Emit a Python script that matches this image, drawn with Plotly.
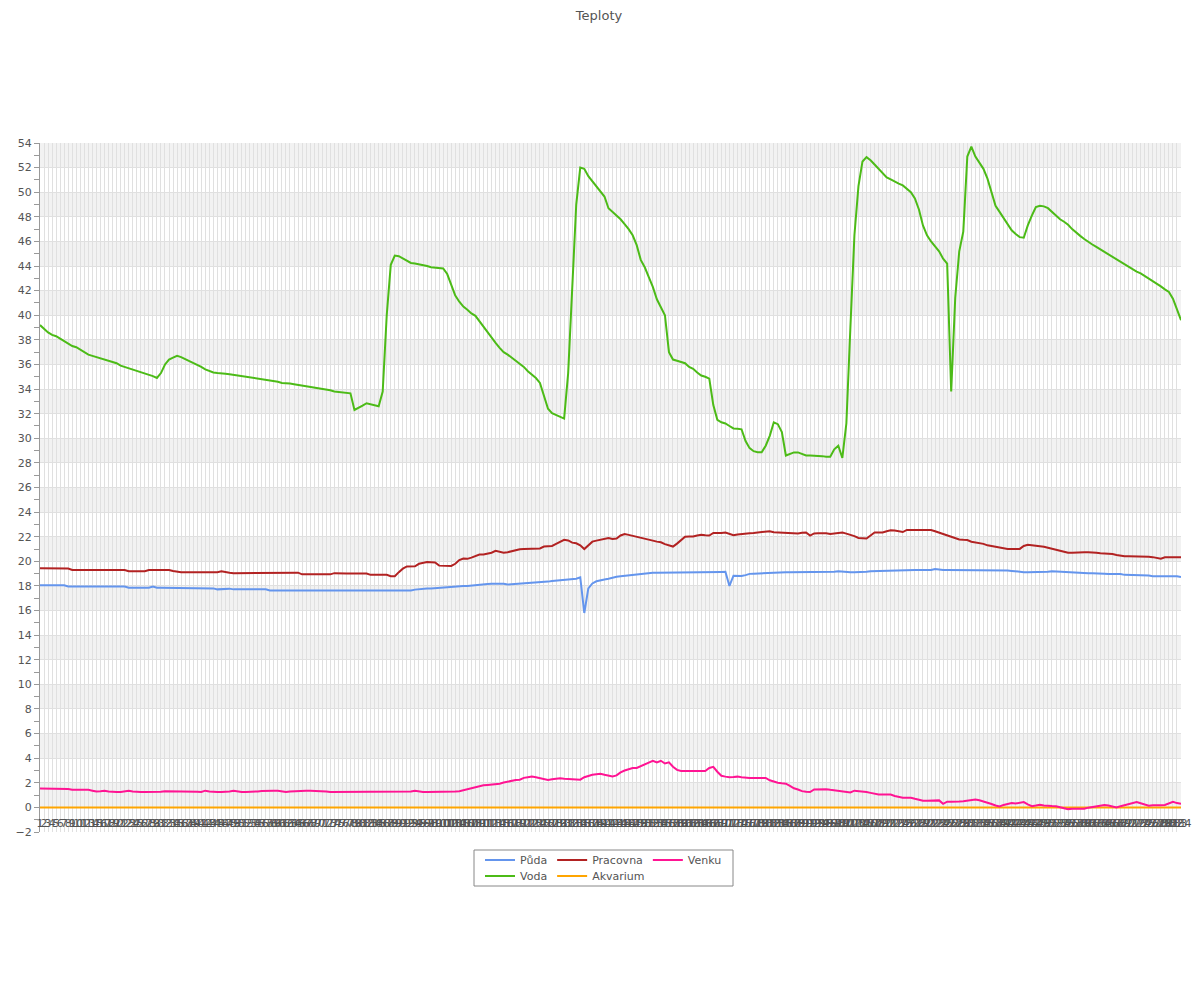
import plotly.graph_objects as go

labels = [str(i) for i in range(1, 285)]

puda = [
    18.05, 18.05, 18.05, 18.05, 18.05, 18.05, 18.05, 17.95, 17.95, 17.95,
    17.95, 17.95, 17.95, 17.95, 17.95, 17.95, 17.95, 17.95, 17.95, 17.95,
    17.95, 17.95, 17.85, 17.85, 17.85, 17.85, 17.85, 17.85, 17.95, 17.85,
    17.85, 17.85, 17.85, 17.85, 17.8, 17.82, 17.85, 17.8, 17.8, 17.8,
    17.8, 17.8, 17.8, 17.8, 17.72, 17.76, 17.8, 17.78, 17.72, 17.72,
    17.72, 17.72, 17.72, 17.72, 17.72, 17.72, 17.72, 17.63, 17.63, 17.63,
    17.63, 17.63, 17.63, 17.63, 17.63, 17.63, 17.63, 17.63, 17.63, 17.63,
    17.63, 17.63, 17.63, 17.63, 17.63, 17.63, 17.63, 17.63, 17.63, 17.63,
    17.63, 17.63, 17.63, 17.63, 17.63, 17.63, 17.63, 17.63, 17.63, 17.63,
    17.63, 17.63, 17.63, 17.7, 17.75, 17.77, 17.79, 17.8, 17.83, 17.85,
    17.88, 17.9, 17.93, 17.95, 17.97, 17.99, 18.0, 18.04, 18.08, 18.12,
    18.15, 18.16, 18.17, 18.18, 18.19, 18.17, 18.12, 18.14, 18.17, 18.2,
    18.22, 18.23, 18.24, 18.25, 18.26, 18.3, 18.35, 18.4, 18.43, 18.46,
    18.5, 18.52, 18.55, 18.58, 18.7, 15.8, 17.8, 18.2, 18.38, 18.48,
    18.52, 18.58, 18.68, 18.74, 18.78, 18.82, 18.86, 18.9, 18.95, 19.0,
    19.04, 19.06, 19.07, 19.08, 19.08, 19.08, 19.08, 19.08, 19.08, 19.08,
    19.08, 19.08, 19.12, 19.1, 19.08, 19.08, 19.1, 19.12, 19.12, 19.14,
    19.15, 18.0, 18.83, 18.82, 18.8, 18.88, 18.98, 19.0, 19.02, 19.04,
    19.05, 19.08, 19.1, 19.12, 19.12, 19.12, 19.12, 19.12, 19.12, 19.12,
    19.12, 19.12, 19.12, 19.12, 19.12, 19.12, 19.12, 19.15, 19.19, 19.15,
    19.12, 19.12, 19.12, 19.12, 19.12, 19.15, 19.19, 19.2, 19.21, 19.22,
    19.25, 19.28, 19.29, 19.29, 19.29, 19.29, 19.29, 19.29, 19.29, 19.29,
    19.29, 19.29, 19.37, 19.32, 19.29, 19.29, 19.29, 19.29, 19.29, 19.29,
    19.29, 19.29, 19.29, 19.29, 19.29, 19.29, 19.29, 19.29, 19.29, 19.29,
    19.25, 19.22, 19.17, 19.12, 19.12, 19.12, 19.12, 19.12, 19.12, 19.12,
    19.15, 19.19, 19.17, 19.15, 19.12, 19.08, 19.06, 19.04, 19.04, 19.04,
    19.04, 19.04, 19.04, 19.04, 19.0, 18.97, 18.97, 18.97, 18.97, 18.9,
    18.9, 18.9, 18.9, 18.9, 18.88, 18.85, 18.79, 18.79, 18.79, 18.79,
    18.79, 18.79, 18.79, 18.72,
]

voda = [
    39.2, 38.9, 38.6, 38.4, 38.3, 38.1, 37.9, 37.7, 37.5, 37.4,
    37.2, 37.0, 36.8, 36.7, 36.6, 36.5, 36.4, 36.25, 36.2, 36.1,
    35.9, 35.8, 35.7, 35.55, 35.45, 35.35, 35.3, 35.15, 35.05, 34.9,
    35.3, 36.0, 36.4, 36.55, 36.7, 36.6, 36.45, 36.3, 36.1, 35.95,
    35.8, 35.6, 35.45, 35.35, 35.3, 35.3, 35.25, 35.2, 35.15, 35.15,
    35.1, 35.05, 35.0, 34.9, 34.85, 34.85, 34.8, 34.75, 34.7, 34.6,
    34.5, 34.5, 34.45, 34.4, 34.35, 34.3, 34.25, 34.2, 34.1, 34.05,
    34.05, 34.0, 33.9, 33.8, 33.75, 33.7, 33.7, 33.65, 32.3, 32.45,
    32.65, 32.85, 32.75, 32.7, 32.6, 33.8, 40.0, 44.1, 44.85, 44.8,
    44.6, 44.4, 44.25, 44.2, 44.15, 44.1, 44.0, 43.9, 43.85, 43.8,
    43.8, 43.35, 42.4, 41.6, 41.1, 40.7, 40.45, 40.15, 39.95, 39.5,
    39.0, 38.6, 38.2, 37.75, 37.35, 37.0, 36.8, 36.55, 36.35, 36.1,
    35.8, 35.45, 35.2, 34.9, 34.5, 33.5, 32.4, 32.05, 31.9, 31.75,
    31.6, 35.3, 42.8, 49.0, 52.0, 51.9, 51.3, 50.9, 50.5, 50.1,
    49.65, 48.7, 48.4, 48.1, 47.8, 47.4, 47.0, 46.5, 45.7, 44.5,
    43.9, 43.1, 42.3, 41.3, 40.7, 40.0, 37.0, 36.4, 36.3, 36.2,
    36.1, 35.8, 35.65, 35.35, 35.1, 35.0, 34.85, 32.7, 31.5, 31.3,
    31.2, 31.0, 30.8, 30.78, 30.73, 29.77, 29.2, 28.95, 28.87, 28.87,
    29.4, 30.2, 31.3, 31.15, 30.5, 28.6, 28.75, 28.85, 28.85, 28.7,
    28.6, 28.6, 28.6, 28.6, 28.55, 28.5, 28.5, 29.1, 29.4, 28.4,
    31.2, 39.0, 46.5, 50.5, 52.5, 52.85, 52.6, 52.25, 51.9, 51.5,
    51.2, 51.05, 50.85, 50.7, 50.55, 50.3, 50.0, 49.5, 48.6, 47.3,
    46.5, 46.0, 45.6, 45.2, 44.6, 44.2, 33.8, 41.4, 45.2, 46.8,
    52.9, 53.7, 52.9, 52.4, 51.9, 51.1, 49.9, 48.9, 48.4, 47.9,
    47.3, 46.9, 46.6, 46.35, 46.3, 47.3, 48.1, 48.8, 48.9, 48.85,
    48.7, 48.4, 48.05, 47.8, 47.6, 47.35, 47.0, 46.7, 46.45, 46.2,
    45.95, 45.75, 45.55, 45.35, 45.15, 44.95, 44.75, 44.5, 44.3, 44.1,
    43.9, 43.7, 43.55, 43.4, 43.2, 43.0, 42.8, 42.55, 42.35, 42.1,
    41.9, 41.35, 40.5, 39.6,
]

pracovna = [
    19.44, 19.44, 19.44, 19.44, 19.4, 19.44, 19.44, 19.42, 19.3, 19.3,
    19.3, 19.3, 19.3, 19.3, 19.3, 19.3, 19.3, 19.3, 19.3, 19.3,
    19.3, 19.3, 19.2, 19.2, 19.2, 19.2, 19.2, 19.3, 19.3, 19.3,
    19.3, 19.3, 19.3, 19.22, 19.15, 19.12, 19.12, 19.12, 19.12, 19.12,
    19.12, 19.12, 19.12, 19.12, 19.12, 19.2, 19.12, 19.08, 19.04, 19.04,
    19.04, 19.04, 19.04, 19.04, 19.04, 19.04, 19.08, 19.08, 19.08, 19.08,
    19.08, 19.08, 19.08, 19.08, 19.08, 18.94, 18.94, 18.94, 18.94, 18.94,
    18.94, 18.94, 18.94, 19.04, 19.01, 19.01, 19.01, 19.01, 19.01, 19.01,
    19.01, 19.01, 18.9, 18.9, 18.9, 18.9, 18.9, 18.79, 18.79, 19.12,
    19.4, 19.58, 19.58, 19.6, 19.8, 19.9, 19.94, 19.92, 19.9, 19.65,
    19.62, 19.62, 19.62, 19.8, 20.1, 20.22, 20.2, 20.3, 20.45, 20.55,
    20.55, 20.6, 20.7, 20.85, 20.75, 20.7, 20.74, 20.82, 20.92, 20.98,
    21.01, 21.01, 21.01, 21.02, 21.05, 21.2, 21.23, 21.25, 21.42, 21.59,
    21.75, 21.7, 21.52, 21.47, 21.3, 21.0, 21.3, 21.6, 21.68, 21.75,
    21.85, 21.9, 21.82, 21.85, 22.1, 22.22, 22.15, 22.08, 22.02, 21.95,
    21.87, 21.78, 21.68, 21.6, 21.55, 21.4, 21.28, 21.2, 21.44, 21.75,
    22.0, 22.02, 22.02, 22.1, 22.16, 22.12, 22.1, 22.3, 22.27, 22.3,
    22.34, 22.22, 22.12, 22.18, 22.23, 22.26, 22.28, 22.3, 22.34, 22.4,
    22.46, 22.45, 22.36, 22.34, 22.34, 22.34, 22.34, 22.3, 22.27, 22.32,
    22.34, 22.09, 22.27, 22.28, 22.3, 22.28, 22.23, 22.27, 22.3, 22.34,
    22.25, 22.16, 22.05, 21.9, 21.85, 21.86, 22.1, 22.34, 22.34, 22.34,
    22.45, 22.52, 22.5, 22.45, 22.38, 22.55, 22.55, 22.55, 22.55, 22.55,
    22.55, 22.55, 22.45, 22.34, 22.22, 22.1, 21.98, 21.85, 21.78, 21.75,
    21.73, 21.59, 21.55, 21.52, 21.42, 21.3, 21.24, 21.19, 21.1, 21.05,
    21.01, 21.01, 21.01, 21.01, 21.25, 21.34, 21.3, 21.28, 21.24, 21.18,
    21.1, 21.01, 20.95, 20.88, 20.8, 20.7, 20.7, 20.73, 20.73, 20.73,
    20.73, 20.73, 20.7, 20.66, 20.66, 20.66, 20.6, 20.52, 20.46, 20.41,
    20.41, 20.41, 20.41, 20.41, 20.41, 20.38, 20.34, 20.3, 20.22, 20.33,
    20.33, 20.33, 20.33, 20.33,
]

akvarium = [
    0, 0, 0, 0, 0, 0, 0, 0, 0, 0, 0, 0, 0, 0, 0, 0, 0, 0, 0, 0,
    0, 0, 0, 0, 0, 0, 0, 0, 0, 0, 0, 0, 0, 0, 0, 0, 0, 0, 0, 0,
    0, 0, 0, 0, 0, 0, 0, 0, 0, 0, 0, 0, 0, 0, 0, 0, 0, 0, 0, 0,
    0, 0, 0, 0, 0, 0, 0, 0, 0, 0, 0, 0, 0, 0, 0, 0, 0, 0, 0, 0,
    0, 0, 0, 0, 0, 0, 0, 0, 0, 0, 0, 0, 0, 0, 0, 0, 0, 0, 0, 0,
    0, 0, 0, 0, 0, 0, 0, 0, 0, 0, 0, 0, 0, 0, 0, 0, 0, 0, 0, 0,
    0, 0, 0, 0, 0, 0, 0, 0, 0, 0, 0, 0, 0, 0, 0, 0, 0, 0, 0, 0,
    0, 0, 0, 0, 0, 0, 0, 0, 0, 0, 0, 0, 0, 0, 0, 0, 0, 0, 0, 0,
    0, 0, 0, 0, 0, 0, 0, 0, 0, 0, 0, 0, 0, 0, 0, 0, 0, 0, 0, 0,
    0, 0, 0, 0, 0, 0, 0, 0, 0, 0, 0, 0, 0, 0, 0, 0, 0, 0, 0, 0,
    0, 0, 0, 0, 0, 0, 0, 0, 0, 0, 0, 0, 0, 0, 0, 0, 0, 0, 0, 0,
    0, 0, 0, 0, 0, 0, 0, 0, 0, 0, 0, 0, 0, 0, 0, 0, 0, 0, 0, 0,
    0, 0, 0, 0, 0, 0, 0, 0, 0, 0, 0, 0, 0, 0, 0, 0, 0, 0, 0, 0,
    0, 0, 0, 0, 0, 0, 0, 0, 0, 0, 0, 0, 0, 0, 0, 0, 0, 0, 0, 0,
    0, 0, 0, 0,
]

venku = [
    1.54, 1.54, 1.54, 1.54, 1.54, 1.54, 1.54, 1.5, 1.43, 1.43,
    1.43, 1.43, 1.43, 1.36, 1.29, 1.32, 1.36, 1.3, 1.25, 1.25,
    1.25, 1.32, 1.36, 1.3, 1.25, 1.25, 1.25, 1.25, 1.25, 1.25,
    1.28, 1.32, 1.32, 1.32, 1.32, 1.32, 1.32, 1.32, 1.32, 1.28,
    1.25, 1.36, 1.3, 1.25, 1.25, 1.25, 1.25, 1.3, 1.36, 1.3,
    1.25, 1.25, 1.25, 1.25, 1.3, 1.33, 1.36, 1.36, 1.36, 1.36,
    1.3, 1.25, 1.3, 1.33, 1.36, 1.36, 1.36, 1.36, 1.36, 1.36,
    1.36, 1.3, 1.25, 1.25, 1.25, 1.25, 1.25, 1.25, 1.25, 1.25,
    1.25, 1.25, 1.25, 1.25, 1.25, 1.25, 1.25, 1.25, 1.25, 1.25,
    1.25, 1.25, 1.3, 1.36, 1.3, 1.25, 1.25, 1.25, 1.25, 1.25,
    1.25, 1.25, 1.27, 1.3, 1.32, 1.4, 1.5, 1.57, 1.64, 1.72,
    1.8, 1.83, 1.85, 1.86, 1.93, 2.02, 2.1, 2.2, 2.23, 2.25,
    2.4, 2.45, 2.5, 2.45, 2.39, 2.32, 2.23, 2.28, 2.33, 2.36,
    2.33, 2.3, 2.26, 2.22, 2.25, 2.45, 2.58, 2.65, 2.7, 2.74,
    2.65, 2.57, 2.52, 2.6, 2.85, 3.0, 3.1, 3.2, 3.2, 3.35,
    3.5, 3.68, 3.79, 3.65, 3.79, 3.57, 3.66, 3.3, 3.05, 2.96,
    2.96, 2.96, 2.96, 2.96, 2.96, 2.96, 3.2, 3.3, 2.9, 2.57,
    2.5, 2.45, 2.47, 2.5, 2.45, 2.4, 2.39, 2.39, 2.39, 2.39,
    2.39, 2.2, 2.08, 2.0, 1.96, 1.93, 1.75, 1.55, 1.45, 1.32,
    1.27, 1.25, 1.46, 1.47, 1.49, 1.48, 1.43, 1.39, 1.38, 1.36,
    1.3, 1.22, 1.36, 1.34, 1.3, 1.25, 1.18, 1.1, 1.04, 1.04,
    1.04, 1.04, 0.93, 0.85, 0.79, 0.79, 0.79, 0.7, 0.6, 0.54,
    0.54, 0.54, 0.55, 0.57, 0.29, 0.46, 0.45, 0.43, 0.47, 0.5,
    0.55, 0.6, 0.64, 0.58, 0.5, 0.38, 0.28, 0.15, 0.07, 0.2,
    0.3, 0.36, 0.32, 0.4, 0.43, 0.25, 0.1, 0.15, 0.21, 0.15,
    0.11, 0.11, 0.1, 0.0, -0.1, -0.14, -0.11, -0.11, -0.11, -0.11,
    -0.02, 0.05, 0.11, 0.15, 0.2, 0.15, 0.07, 0.0, 0.1, 0.18,
    0.28, 0.38, 0.43, 0.33, 0.22, 0.14, 0.18, 0.21, 0.18, 0.2,
    0.3, 0.46, 0.35, 0.29,
]

series = [
    ("Půda", puda, "#6495ED", "legend"),
    ("Voda", voda, "#4CBB17", "legend2"),
    ("Pracovna", pracovna, "#B22222", "legend"),
    ("Akvarium", akvarium, "#FFA500", "legend2"),
    ("Venku", venku, "#FF1493", "legend"),
]

for name, vals, _, _ in series:
    assert len(vals) == len(labels), (name, len(vals))

FONT = "DejaVu Sans"
TXT = "#545454"
GRID = "#e0e0e0"

# page body has an 8px margin; figure placed so that plot area spans x 40..1181, y 143..832
W, H = 1184, 984
ML, MR, MT, MB = 32, 11, 135, 160
PW, PH = W - ML - MR, H - MT - MB  # 1141 x 689
OFF = 8


def px_x(px):
    return (px - OFF - ML) / PW


def px_y(py):
    return (H - MB - (py - OFF)) / PH


fig = go.Figure()
for name, vals, color, lg in series:
    fig.add_trace(go.Scatter(
        x=labels, y=vals, name=name, mode="lines",
        line=dict(color=color, width=2), legend=lg,
    ))

shapes = []
for v in range(0, 54, 4):
    shapes.append(dict(type="rect", xref="paper", yref="y", x0=0, x1=1,
                       y0=v, y1=v + 2, fillcolor="#f2f2f2",
                       line=dict(width=0), layer="below"))
# legend frame
shapes.append(dict(type="rect", xref="paper", yref="paper",
                   x0=px_x(474), x1=px_x(733),
                   y0=px_y(850), y1=px_y(886),
                   line=dict(color="#888888", width=1), fillcolor="rgba(0,0,0,0)"))

leg_common = dict(orientation="h", xanchor="left", yanchor="middle",
                  bgcolor="rgba(0,0,0,0)", borderwidth=0,
                  font=dict(family=FONT, size=11, color=TXT), itemwidth=30)

fig.update_layout(
    width=W, height=H,
    margin=dict(l=ML, r=MR, t=MT, b=MB, autoexpand=False),
    paper_bgcolor="white", plot_bgcolor="white",
    font=dict(family=FONT, size=11, color=TXT),
    title=dict(text="Teploty", x=(599 - OFF) / W, xanchor="center",
               y=1 - 7 / H, yanchor="middle", yref="container",
               font=dict(family=FONT, size=13, color=TXT)),
    showlegend=True,
    legend=dict(x=px_x(480), y=px_y(860), **leg_common),
    legend2=dict(x=px_x(480), y=px_y(876), **leg_common),
    shapes=shapes,
    xaxis=dict(
        type="category", range=[0, len(labels) - 1],
        tickmode="array", tickvals=labels, ticktext=labels,
        tickangle=0, ticks="", showgrid=True, gridcolor=GRID, gridwidth=1,
        ticklabelposition="inside", ticklabeloverflow="allow",
        tickfont=dict(family=FONT, size=11, color=TXT),
        showline=False, zeroline=False, automargin=False,
    ),
    yaxis=dict(
        range=[-2, 54], tickmode="linear", tick0=0, dtick=2,
        ticks="outside", ticklen=5, tickcolor="#999999",
        showgrid=True, gridcolor=GRID, gridwidth=1,
        showline=True, linecolor="#999999", linewidth=1,
        zeroline=False, automargin=False,
        tickfont=dict(family=FONT, size=11, color=TXT),
        minor=dict(dtick=1, ticks="outside", ticklen=5, tickcolor="#999999", showgrid=False),
    ),
    hovermode="closest",
)

fig.write_html("out.html")
